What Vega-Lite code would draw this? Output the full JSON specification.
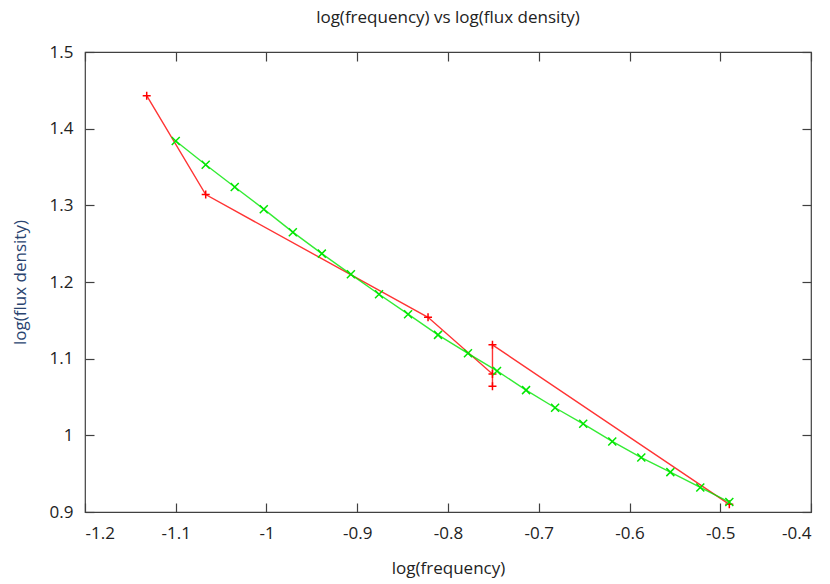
{
  "$schema": "https://vega.github.io/schema/vega-lite/v6.json",
  "width": 726,
  "height": 460,
  "autosize": {"type": "none"},
  "padding": {"left": 85, "top": 52, "right": 19, "bottom": 72},
  "background": "white",
  "title": {"text": "log(frequency) vs log(flux density)", "font": "Open Sans", "fontSize": 17, "fontWeight": "normal", "color": "#222222", "offset": 16, "anchor": "middle"},
  "config": {
    "view": {"stroke": "#404040", "strokeWidth": 1.2},
    "axis": {"grid": false, "domain": false, "tickColor": "#404040", "tickWidth": 1.2, "labelFont": "Open Sans", "labelFontSize": 17, "labelColor": "#222222", "titleFont": "Open Sans", "titleFontSize": 17, "titleFontWeight": "normal"}
  },
  "data": {"values": [
    {"series": "obs", "o": 1, "x": -1.132, "y": 1.443},
    {"series": "obs", "o": 2, "x": -1.067, "y": 1.314},
    {"series": "obs", "o": 3, "x": -0.822, "y": 1.154},
    {"series": "obs", "o": 4, "x": -0.751, "y": 1.080},
    {"series": "obs", "o": 5, "x": -0.751, "y": 1.064},
    {"series": "obs", "o": 6, "x": -0.751, "y": 1.118},
    {"series": "obs", "o": 7, "x": -0.490, "y": 0.910},
    {"series": "fit", "o": 1, "x": -1.100, "y": 1.384},
    {"series": "fit", "o": 2, "x": -1.067, "y": 1.353},
    {"series": "fit", "o": 3, "x": -1.035, "y": 1.324},
    {"series": "fit", "o": 4, "x": -1.003, "y": 1.295},
    {"series": "fit", "o": 5, "x": -0.971, "y": 1.265},
    {"series": "fit", "o": 6, "x": -0.939, "y": 1.237},
    {"series": "fit", "o": 7, "x": -0.907, "y": 1.210},
    {"series": "fit", "o": 8, "x": -0.876, "y": 1.184},
    {"series": "fit", "o": 9, "x": -0.844, "y": 1.158},
    {"series": "fit", "o": 10, "x": -0.811, "y": 1.131},
    {"series": "fit", "o": 11, "x": -0.778, "y": 1.107},
    {"series": "fit", "o": 12, "x": -0.746, "y": 1.084},
    {"series": "fit", "o": 13, "x": -0.714, "y": 1.059},
    {"series": "fit", "o": 14, "x": -0.682, "y": 1.036},
    {"series": "fit", "o": 15, "x": -0.651, "y": 1.015},
    {"series": "fit", "o": 16, "x": -0.619, "y": 0.992},
    {"series": "fit", "o": 17, "x": -0.587, "y": 0.971},
    {"series": "fit", "o": 18, "x": -0.555, "y": 0.952},
    {"series": "fit", "o": 19, "x": -0.522, "y": 0.932},
    {"series": "fit", "o": 20, "x": -0.490, "y": 0.913}
  ]},
  "layer": [
    {
      "mark": {"type": "line", "strokeWidth": 1.4, "opacity": 0.8},
      "encoding": {
        "x": {"field": "x", "type": "quantitative", "scale": {"domain": [-1.2, -0.4], "nice": false, "zero": false},
              "axis": {"orient": "bottom", "title": "log(frequency)", "titleColor": "#222222", "titlePadding": 19, "values": [-1.2, -1.1, -1.0, -0.9, -0.8, -0.7, -0.6, -0.5, -0.4], "labelExpr": "'' + datum.value", "tickSize": -9, "labelPadding": 22}},
        "y": {"field": "y", "type": "quantitative", "scale": {"domain": [0.9, 1.5], "nice": false, "zero": false},
              "axis": {"orient": "left", "title": "log(flux density)", "titleColor": "#2a4470", "titlePadding": 20, "values": [0.9, 1.0, 1.1, 1.2, 1.3, 1.4, 1.5], "labelExpr": "'' + datum.value", "tickSize": -9, "labelPadding": 21}},
        "color": {"field": "series", "type": "nominal", "scale": {"domain": ["obs", "fit"], "range": ["#ff0000", "#00e600"]}, "legend": null},
        "detail": {"field": "series"},
        "order": {"field": "o", "type": "quantitative"}
      }
    },
    {
      "mark": {"type": "point", "filled": false, "strokeWidth": 1.5, "opacity": 1},
      "encoding": {
        "x": {"field": "x", "type": "quantitative", "axis": {"orient": "top", "title": null, "labels": false, "values": [-1.2, -1.1, -1.0, -0.9, -0.8, -0.7, -0.6, -0.5, -0.4], "tickSize": -9}},
        "y": {"field": "y", "type": "quantitative", "axis": {"orient": "right", "title": null, "labels": false, "values": [0.9, 1.0, 1.1, 1.2, 1.3, 1.4, 1.5], "tickSize": -9}},
        "color": {"field": "series", "type": "nominal", "legend": null},
        "shape": {"field": "series", "type": "nominal", "scale": {"domain": ["obs", "fit"], "range": ["M-1,0L1,0M0,-1L0,1", "M-1,-1L1,1M-1,1L1,-1"]}, "legend": null},
        "size": {"field": "series", "type": "nominal", "scale": {"domain": ["obs", "fit"], "range": [64, 64]}, "legend": null}
      }
    }
  ],
  "resolve": {"axis": {"x": "independent", "y": "independent"}}
}
